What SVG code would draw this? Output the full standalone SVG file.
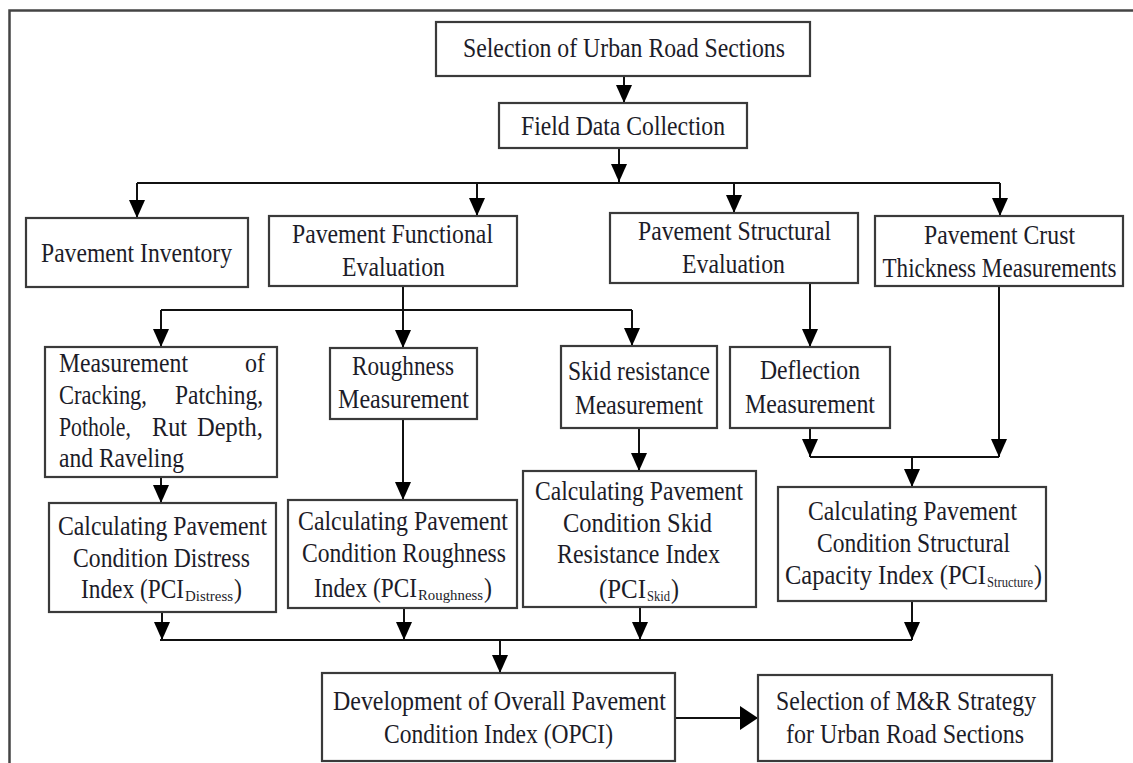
<svg xmlns="http://www.w3.org/2000/svg" width="1133" height="763" viewBox="0 0 1133 763">
<style>
.box{fill:#fff;stroke:#3a3a3a;stroke-width:2.2}
.t{font-family:'Liberation Serif','DejaVu Serif','Noto Serif',serif;font-size:24px;fill:#1c1c28;text-anchor:middle}
.l{font-family:'Liberation Serif','DejaVu Serif','Noto Serif',serif;font-size:24px;fill:#1c1c28}
.sub{font-size:13px}
.c{fill:none;stroke:#111;stroke-width:2}
</style>
<defs>
<marker id="ah" viewBox="0 0 18 16" markerWidth="18" markerHeight="16" refX="18" refY="8" orient="auto" markerUnits="userSpaceOnUse">
<path d="M0,0 L18,8 L0,16 z" fill="#000"/>
</marker>
<marker id="ahb" viewBox="0 0 18 24" markerWidth="18" markerHeight="24" refX="18" refY="12" orient="auto" markerUnits="userSpaceOnUse">
<path d="M0,0 L18,12 L0,24 z" fill="#000"/>
</marker>
</defs>
<rect width="1133" height="763" fill="#fff"/>
<path d="M9.5,763 V10.5 H1133" fill="none" stroke="#444" stroke-width="2.5"/>

<g id="connectors">
<path class="c" d="M624,76 V103" marker-end="url(#ah)"/>
<path class="c" d="M619,148 V182" marker-end="url(#ah)"/>
<path class="c" d="M137,183 H1000" stroke="#444" stroke-width="2.5"/>
<path class="c" d="M137,183 V218" marker-end="url(#ah)"/>
<path class="c" d="M477,183 V216" marker-end="url(#ah)"/>
<path class="c" d="M734,183 V213" marker-end="url(#ah)"/>
<path class="c" d="M1000,183 V216" marker-end="url(#ah)"/>
<path class="c" d="M403,286 V348" marker-end="url(#ah)"/>
<path class="c" d="M161,310 H632"/>
<path class="c" d="M161,310 V347" marker-end="url(#ah)"/>
<path class="c" d="M632,310 V346" marker-end="url(#ah)"/>
<path class="c" d="M810,283 V347" marker-end="url(#ah)"/>
<path class="c" d="M999,286 V457" marker-end="url(#ah)"/>
<path class="c" d="M810,428 V457" marker-end="url(#ah)"/>
<path class="c" d="M810,457 H999"/>
<path class="c" d="M912,457 V487" marker-end="url(#ah)"/>
<path class="c" d="M161,477 V503" marker-end="url(#ah)"/>
<path class="c" d="M403,419 V500" marker-end="url(#ah)"/>
<path class="c" d="M639,428 V471" marker-end="url(#ah)"/>
<path class="c" d="M162,612 V640" marker-end="url(#ah)"/>
<path class="c" d="M404,608 V640" marker-end="url(#ah)"/>
<path class="c" d="M640,607 V640" marker-end="url(#ah)"/>
<path class="c" d="M912,601 V640" marker-end="url(#ah)"/>
<path class="c" d="M160,640 H912"/>
<path class="c" d="M500,640 V673" marker-end="url(#ah)"/>
<path class="c" d="M675,718 H758" stroke-width="4.5" marker-end="url(#ahb)"/>
</g>

<g id="n1"><rect class="box" x="436" y="22" width="374" height="54"/>
<text class="t" x="624" y="57" transform="matrix(1,0,0,1.12,0,-6.84)" textLength="322" lengthAdjust="spacingAndGlyphs">Selection of Urban Road Sections</text></g>

<g id="n2"><rect class="box" x="499" y="103" width="248" height="45"/>
<text class="t" x="623" y="135" transform="matrix(1,0,0,1.12,0,-16.2)" textLength="204" lengthAdjust="spacingAndGlyphs">Field Data Collection</text></g>

<g id="n3"><rect class="box" x="26" y="218" width="222" height="69"/>
<text class="t" x="136.5" y="262" transform="matrix(1,0,0,1.12,0,-31.44)" textLength="191" lengthAdjust="spacingAndGlyphs">Pavement Inventory</text></g>

<g id="n4"><rect class="box" x="269" y="216" width="248" height="70"/>
<text class="t" x="392.5" y="243" transform="matrix(1,0,0,1.12,0,-29.16)" textLength="201" lengthAdjust="spacingAndGlyphs">Pavement Functional</text>
<text class="t" x="393.5" y="276" transform="matrix(1,0,0,1.12,0,-33.12)" textLength="103" lengthAdjust="spacingAndGlyphs">Evaluation</text></g>

<g id="n5"><rect class="box" x="610" y="213" width="248" height="70"/>
<text class="t" x="734.5" y="240" transform="matrix(1,0,0,1.12,0,-28.8)" textLength="193" lengthAdjust="spacingAndGlyphs">Pavement Structural</text>
<text class="t" x="733.5" y="273" transform="matrix(1,0,0,1.12,0,-32.76)" textLength="103" lengthAdjust="spacingAndGlyphs">Evaluation</text></g>

<g id="n6"><rect class="box" x="875" y="216" width="248" height="70"/>
<text class="t" x="999.5" y="244" transform="matrix(1,0,0,1.12,0,-29.28)" textLength="151" lengthAdjust="spacingAndGlyphs">Pavement Crust</text>
<text class="t" x="999.5" y="277" transform="matrix(1,0,0,1.12,0,-33.24)" textLength="234" lengthAdjust="spacingAndGlyphs">Thickness Measurements</text></g>

<g id="n7"><rect class="box" x="45" y="347" width="232" height="130"/>
<text class="l" x="59" y="372" transform="matrix(1,0,0,1.12,0,-44.64)" textLength="129" lengthAdjust="spacingAndGlyphs">Measurement</text>
<text class="l" x="245" y="372" transform="matrix(1,0,0,1.12,0,-44.64)" textLength="20" lengthAdjust="spacingAndGlyphs">of</text>
<text class="l" x="59" y="404" transform="matrix(1,0,0,1.12,0,-48.48)" textLength="88" lengthAdjust="spacingAndGlyphs">Cracking,</text>
<text class="l" x="175" y="404" transform="matrix(1,0,0,1.12,0,-48.48)" textLength="88" lengthAdjust="spacingAndGlyphs">Patching,</text>
<text class="l" x="59" y="436" transform="matrix(1,0,0,1.12,0,-52.32)" textLength="72" lengthAdjust="spacingAndGlyphs">Pothole,</text>
<text class="l" x="152" y="436" transform="matrix(1,0,0,1.12,0,-52.32)" textLength="35" lengthAdjust="spacingAndGlyphs">Rut</text>
<text class="l" x="197" y="436" transform="matrix(1,0,0,1.12,0,-52.32)" textLength="66" lengthAdjust="spacingAndGlyphs">Depth,</text>
<text class="l" x="59" y="467" transform="matrix(1,0,0,1.12,0,-56.04)" textLength="125" lengthAdjust="spacingAndGlyphs">and Raveling</text></g>

<g id="n8"><rect class="box" x="330" y="348" width="147" height="71"/>
<text class="t" x="403" y="375" transform="matrix(1,0,0,1.12,0,-45)" textLength="102" lengthAdjust="spacingAndGlyphs">Roughness</text>
<text class="t" x="403.5" y="408" transform="matrix(1,0,0,1.12,0,-48.96)" textLength="131" lengthAdjust="spacingAndGlyphs">Measurement</text></g>

<g id="n9"><rect class="box" x="561" y="346" width="156" height="82"/>
<text class="t" x="639" y="380" transform="matrix(1,0,0,1.12,0,-45.6)" textLength="142" lengthAdjust="spacingAndGlyphs">Skid resistance</text>
<text class="t" x="639" y="414" transform="matrix(1,0,0,1.12,0,-49.68)" textLength="128" lengthAdjust="spacingAndGlyphs">Measurement</text></g>

<g id="n10"><rect class="box" x="730" y="347" width="160" height="81"/>
<text class="t" x="810" y="379" transform="matrix(1,0,0,1.12,0,-45.48)" textLength="100" lengthAdjust="spacingAndGlyphs">Deflection</text>
<text class="t" x="810" y="413" transform="matrix(1,0,0,1.12,0,-49.56)" textLength="130" lengthAdjust="spacingAndGlyphs">Measurement</text></g>

<g id="n11"><rect class="box" x="49" y="503" width="227" height="109"/>
<text class="t" x="162.5" y="535" transform="matrix(1,0,0,1.12,0,-64.2)" textLength="209" lengthAdjust="spacingAndGlyphs">Calculating Pavement</text>
<text class="t" x="161.5" y="567" transform="matrix(1,0,0,1.12,0,-68.04)" textLength="177" lengthAdjust="spacingAndGlyphs">Condition Distress</text>
<text class="l" x="81" y="598" transform="matrix(1,0,0,1.12,0,-71.76)" textLength="103" lengthAdjust="spacingAndGlyphs">Index (PCI</text>
<text class="l sub" x="185" y="601" transform="matrix(1,0,0,1.12,0,-72.12)" textLength="48" lengthAdjust="spacingAndGlyphs">Distress</text>
<text class="l" x="234" y="598" transform="matrix(1,0,0,1.12,0,-71.76)">)</text></g>

<g id="n12"><rect class="box" x="288" y="500" width="229" height="108"/>
<text class="t" x="403" y="530" transform="matrix(1,0,0,1.12,0,-63.6)" textLength="210" lengthAdjust="spacingAndGlyphs">Calculating Pavement</text>
<text class="t" x="404" y="562" transform="matrix(1,0,0,1.12,0,-67.44)" textLength="204" lengthAdjust="spacingAndGlyphs">Condition Roughness</text>
<text class="l" x="314" y="597" transform="matrix(1,0,0,1.12,0,-71.64)" textLength="103" lengthAdjust="spacingAndGlyphs">Index (PCI</text>
<text class="l sub" x="418" y="600" transform="matrix(1,0,0,1.12,0,-72)" textLength="65" lengthAdjust="spacingAndGlyphs">Roughness</text>
<text class="l" x="484" y="597" transform="matrix(1,0,0,1.12,0,-71.64)">)</text></g>

<g id="n13"><rect class="box" x="523" y="471" width="233" height="136"/>
<text class="t" x="639" y="500" transform="matrix(1,0,0,1.12,0,-60)" textLength="208" lengthAdjust="spacingAndGlyphs">Calculating Pavement</text>
<text class="t" x="637.5" y="532" transform="matrix(1,0,0,1.12,0,-63.84)" textLength="149" lengthAdjust="spacingAndGlyphs">Condition Skid</text>
<text class="t" x="638.5" y="563" transform="matrix(1,0,0,1.12,0,-67.56)" textLength="163" lengthAdjust="spacingAndGlyphs">Resistance Index</text>
<text class="l" x="599" y="598" transform="matrix(1,0,0,1.12,0,-71.76)" textLength="47" lengthAdjust="spacingAndGlyphs">(PCI</text>
<text class="l sub" x="647" y="601" transform="matrix(1,0,0,1.12,0,-72.12)" textLength="23" lengthAdjust="spacingAndGlyphs">Skid</text>
<text class="l" x="671" y="598" transform="matrix(1,0,0,1.12,0,-71.76)">)</text></g>

<g id="n14"><rect class="box" x="778" y="487" width="268" height="114"/>
<text class="t" x="912.5" y="520" transform="matrix(1,0,0,1.12,0,-62.4)" textLength="209" lengthAdjust="spacingAndGlyphs">Calculating Pavement</text>
<text class="t" x="913.5" y="552" transform="matrix(1,0,0,1.12,0,-66.24)" textLength="193" lengthAdjust="spacingAndGlyphs">Condition Structural</text>
<text class="l" x="785" y="584" transform="matrix(1,0,0,1.12,0,-70.08)" textLength="201" lengthAdjust="spacingAndGlyphs">Capacity Index (PCI</text>
<text class="l sub" x="987" y="587" transform="matrix(1,0,0,1.12,0,-70.44)" textLength="46" lengthAdjust="spacingAndGlyphs">Structure</text>
<text class="l" x="1034" y="584" transform="matrix(1,0,0,1.12,0,-70.08)">)</text></g>

<g id="n15"><rect class="box" x="322" y="673" width="353" height="88"/>
<text class="t" x="499.5" y="710" transform="matrix(1,0,0,1.12,0,-85.2)" textLength="333" lengthAdjust="spacingAndGlyphs">Development of Overall Pavement</text>
<text class="t" x="498.5" y="743" transform="matrix(1,0,0,1.12,0,-89.16)" textLength="229" lengthAdjust="spacingAndGlyphs">Condition Index (OPCI)</text></g>

<g id="n16"><rect class="box" x="758" y="675" width="294" height="86"/>
<text class="t" x="906" y="710" transform="matrix(1,0,0,1.12,0,-85.2)" textLength="260" lengthAdjust="spacingAndGlyphs">Selection of M&amp;R Strategy</text>
<text class="t" x="905" y="743" transform="matrix(1,0,0,1.12,0,-89.16)" textLength="238" lengthAdjust="spacingAndGlyphs">for Urban Road Sections</text></g>
</svg>
